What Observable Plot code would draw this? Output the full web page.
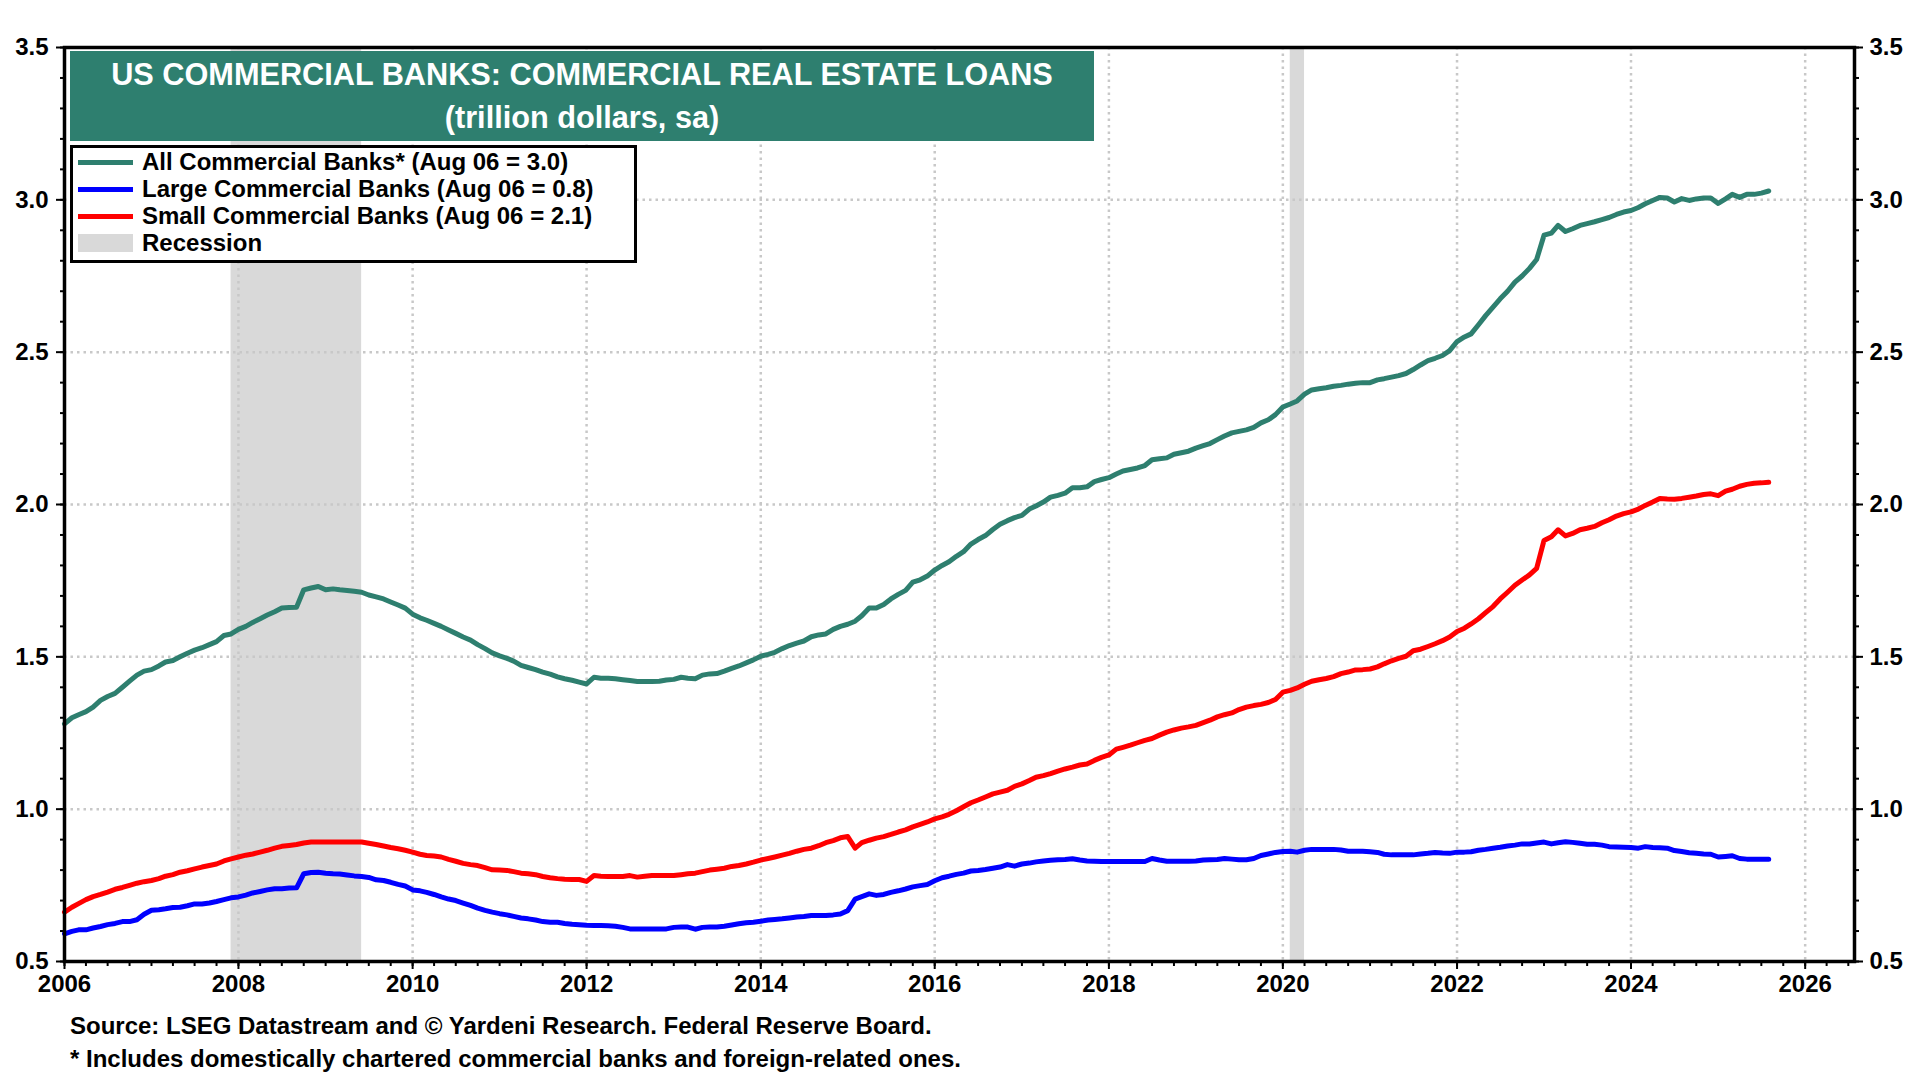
<!DOCTYPE html>
<html><head><meta charset="utf-8">
<script src="https://cdn.jsdelivr.net/npm/d3@7"></script>
<script src="https://cdn.jsdelivr.net/npm/@observablehq/plot@0.6"></script>
<style>
body{margin:0;background:#fff;}
#wrap{position:relative;width:1920px;height:1080px;font-family:Arial,"Liberation Sans",sans-serif;font-weight:bold;color:#000;overflow:hidden;}
#chart{position:absolute;left:0;top:0;}
#titlebox{position:absolute;left:70px;top:51px;width:1024px;height:90px;background:#2e7f6f;color:#fff;}
.tline{position:absolute;left:0;width:100%;text-align:center;font-size:30.7px;line-height:36px;}
#legend{position:absolute;left:70px;top:145px;width:567px;height:118px;border:3px solid #000;box-sizing:border-box;background:#fff;}
.lrow{position:absolute;left:142px;font-size:24px;line-height:26px;white-space:nowrap;}
.sw{position:absolute;left:78px;width:55px;}
.src{position:absolute;left:70px;font-size:24px;line-height:28px;white-space:nowrap;}
</style></head>
<body>
<div id="wrap">
  <div id="chart"></div>
  <div id="titlebox">
    <div class="tline" style="top:6px">US COMMERCIAL BANKS: COMMERCIAL REAL ESTATE LOANS</div>
    <div class="tline" style="top:49px">(trillion dollars, sa)</div>
  </div>
  <div id="legend"></div>
  <div class="src" style="top:1012px">Source: LSEG Datastream and © Yardeni Research. Federal Reserve Board.</div>
  <div class="src" style="top:1045px">* Includes domestically chartered commercial banks and foreign-related ones.</div>
</div>
<script>
// Monthly values, Jan 2006 .. Aug 2025 (trillion dollars)
const startYear = 2006;
const allBanks = [
1.28,1.30,1.31,1.32,1.335,1.357,1.37,1.38,1.40,1.42,1.44,1.453,
1.458,1.47,1.483,1.488,1.50,1.512,1.522,1.53,1.54,1.55,1.57,1.575,
1.59,1.60,1.613,1.625,1.637,1.648,1.66,1.662,1.663,1.72,1.726,1.731,
1.72,1.723,1.72,1.718,1.715,1.712,1.703,1.697,1.69,1.68,1.67,1.66,
1.64,1.628,1.62,1.61,1.60,1.588,1.577,1.565,1.555,1.54,1.527,1.513,
1.503,1.495,1.486,1.472,1.465,1.458,1.45,1.443,1.434,1.428,1.423,1.417,
1.411,1.433,1.43,1.43,1.428,1.425,1.422,1.419,1.419,1.419,1.42,1.424,
1.426,1.433,1.43,1.428,1.44,1.444,1.445,1.453,1.462,1.47,1.48,1.49,
1.502,1.508,1.515,1.527,1.537,1.545,1.552,1.566,1.572,1.575,1.59,1.60,
1.607,1.617,1.635,1.66,1.66,1.672,1.69,1.705,1.718,1.745,1.753,1.765,
1.785,1.80,1.812,1.83,1.845,1.87,1.885,1.898,1.918,1.935,1.947,1.957,
1.964,1.985,1.995,2.008,2.024,2.03,2.037,2.055,2.055,2.058,2.075,2.082,
2.088,2.10,2.11,2.115,2.12,2.128,2.147,2.15,2.153,2.165,2.17,2.175,
2.185,2.193,2.20,2.213,2.225,2.235,2.24,2.245,2.253,2.268,2.278,2.295,
2.32,2.33,2.34,2.362,2.376,2.38,2.383,2.388,2.391,2.395,2.398,2.40,
2.40,2.409,2.413,2.418,2.423,2.43,2.443,2.458,2.472,2.48,2.489,2.505,
2.535,2.55,2.56,2.59,2.62,2.648,2.675,2.70,2.73,2.75,2.775,2.804,
2.884,2.891,2.916,2.896,2.905,2.916,2.922,2.928,2.935,2.942,2.952,2.96,
2.965,2.975,2.987,2.998,3.008,3.006,2.993,3.004,2.998,3.003,3.006,3.006,
2.988,3.003,3.018,3.008,3.018,3.018,3.022,3.029
];
const largeBanks = [
0.591,0.599,0.604,0.604,0.61,0.615,0.621,0.625,0.631,0.631,0.637,0.655,
0.668,0.67,0.673,0.677,0.678,0.683,0.689,0.689,0.692,0.697,0.703,0.709,
0.712,0.718,0.725,0.73,0.735,0.739,0.739,0.741,0.742,0.788,0.792,0.793,
0.79,0.788,0.787,0.784,0.781,0.779,0.776,0.768,0.766,0.76,0.753,0.748,
0.735,0.732,0.727,0.72,0.712,0.705,0.70,0.692,0.684,0.675,0.668,0.662,
0.657,0.653,0.648,0.643,0.64,0.636,0.631,0.629,0.629,0.625,0.622,0.621,
0.619,0.618,0.618,0.617,0.616,0.612,0.607,0.607,0.607,0.607,0.607,0.607,
0.612,0.613,0.613,0.606,0.612,0.613,0.613,0.616,0.62,0.624,0.627,0.629,
0.632,0.636,0.638,0.64,0.643,0.646,0.648,0.651,0.651,0.651,0.653,0.656,
0.667,0.705,0.713,0.722,0.717,0.72,0.727,0.732,0.738,0.745,0.749,0.753,
0.765,0.775,0.78,0.786,0.79,0.797,0.799,0.802,0.806,0.81,0.818,0.813,
0.82,0.823,0.827,0.83,0.832,0.834,0.835,0.837,0.833,0.83,0.829,0.828,
0.828,0.828,0.828,0.828,0.828,0.828,0.838,0.833,0.829,0.829,0.829,0.829,
0.83,0.833,0.834,0.835,0.838,0.836,0.834,0.834,0.838,0.848,0.853,0.858,
0.861,0.862,0.859,0.865,0.868,0.868,0.868,0.868,0.866,0.862,0.862,0.862,
0.86,0.858,0.852,0.85,0.85,0.85,0.85,0.853,0.855,0.858,0.856,0.855,
0.859,0.859,0.86,0.865,0.868,0.872,0.875,0.879,0.882,0.886,0.886,0.889,
0.892,0.886,0.89,0.893,0.891,0.888,0.885,0.885,0.882,0.877,0.876,0.875,
0.874,0.872,0.877,0.874,0.873,0.872,0.864,0.861,0.857,0.855,0.853,0.852,
0.843,0.845,0.847,0.838,0.836,0.836,0.836,0.836
];
const smallBanks = [
0.662,0.678,0.69,0.703,0.713,0.72,0.728,0.737,0.743,0.75,0.757,0.762,
0.766,0.772,0.78,0.785,0.793,0.798,0.804,0.81,0.815,0.82,0.83,0.837,
0.843,0.849,0.853,0.859,0.865,0.872,0.878,0.881,0.884,0.889,0.892,0.892,
0.892,0.892,0.892,0.892,0.892,0.892,0.888,0.884,0.879,0.874,0.87,0.865,
0.859,0.852,0.848,0.846,0.843,0.835,0.829,0.822,0.818,0.815,0.808,0.801,
0.80,0.799,0.795,0.79,0.788,0.785,0.779,0.775,0.772,0.77,0.769,0.769,
0.763,0.782,0.78,0.779,0.779,0.779,0.782,0.777,0.78,0.782,0.782,0.782,
0.782,0.785,0.788,0.79,0.795,0.80,0.803,0.806,0.812,0.815,0.82,0.826,
0.833,0.838,0.843,0.849,0.855,0.862,0.868,0.872,0.88,0.89,0.897,0.906,
0.91,0.872,0.89,0.898,0.905,0.91,0.917,0.925,0.932,0.942,0.95,0.958,
0.968,0.975,0.983,0.995,1.008,1.021,1.03,1.04,1.05,1.056,1.062,1.075,
1.083,1.094,1.105,1.11,1.117,1.125,1.132,1.138,1.145,1.148,1.16,1.17,
1.178,1.197,1.203,1.21,1.218,1.226,1.232,1.243,1.253,1.26,1.266,1.27,
1.275,1.284,1.292,1.303,1.31,1.316,1.327,1.335,1.34,1.344,1.35,1.36,
1.384,1.39,1.398,1.41,1.42,1.425,1.429,1.435,1.445,1.45,1.457,1.458,
1.46,1.467,1.477,1.487,1.495,1.502,1.52,1.525,1.534,1.543,1.553,1.565,
1.583,1.594,1.608,1.625,1.645,1.665,1.69,1.712,1.735,1.752,1.769,1.79,
1.882,1.894,1.917,1.897,1.905,1.917,1.922,1.928,1.94,1.95,1.962,1.97,
1.976,1.985,1.997,2.008,2.02,2.018,2.017,2.02,2.024,2.028,2.033,2.035,
2.029,2.044,2.05,2.06,2.066,2.07,2.071,2.073
];
const seriesNames = ["All Commercial Banks* (Aug 06 = 3.0)", "Large Commercial Banks (Aug 06 = 0.8)", "Small Commercial Banks (Aug 06 = 2.1)", "Recession"];
const seriesColors = ["#2e7f6f", "#0000ff", "#ff0000", "#d9d9d9"];
const recessionStarts = ["2007-12-01", "2020-02-01"];
const recessionEnds = ["2009-06-01", "2020-04-01"];
const xTickYears = [2006, 2008, 2010, 2012, 2014, 2016, 2018, 2020, 2022, 2024, 2026];
const yTickValues = [0.5, 1.0, 1.5, 2.0, 2.5, 3.0, 3.5];
const xDomainEnd = "2026-07-27";

const dateOf = i => new Date(Date.UTC(startYear, i, 1));
const toRows = arr => arr.map((v, i) => ({date: dateOf(i), value: v}));
const recessions = recessionStarts.map((s, i) => ({start: new Date(s), end: new Date(recessionEnds[i])}));
const xMajor = xTickYears.map(y => new Date(Date.UTC(y, 0, 1)));
const x0 = new Date(Date.UTC(startYear, 0, 1));
const x1 = new Date(xDomainEnd);
const xMinor = d3.utcMonth.every(3).range(x0, x1);
const yMinor = d3.range(5, 36).map(k => k / 10);
const yGrid = yTickValues.slice(1, -1);

const grid = {stroke: "#c8c8c8", strokeOpacity: 1, strokeWidth: 2.5, strokeDasharray: "2.5,4"};
const fmt = d3.format(".1f");

const chart = Plot.plot({
  width: 1920, height: 1000,
  marginLeft: 64, marginRight: 66, marginTop: 47, marginBottom: 39,
  x: {type: "utc", domain: [x0, x1], label: null},
  y: {domain: [0.5, 3.5], label: null},
  style: {fontFamily: "Arial, 'Liberation Sans', sans-serif", fontSize: "24px", fontWeight: "bold", color: "#000", background: "#fff", overflow: "visible"},
  marks: [
    Plot.rect(recessions, {x1: "start", x2: "end", fill: seriesColors[3]}),
    Plot.gridX(xMajor, grid),
    Plot.gridY(yGrid, grid),
    Plot.lineY(toRows(largeBanks), {x: "date", y: "value", stroke: seriesColors[1], strokeWidth: 5}),
    Plot.lineY(toRows(smallBanks), {x: "date", y: "value", stroke: seriesColors[2], strokeWidth: 5}),
    Plot.lineY(toRows(allBanks), {x: "date", y: "value", stroke: seriesColors[0], strokeWidth: 5}),
    Plot.axisY(yMinor, {anchor: "left", label: null, tickSize: 4, strokeWidth: 2, tickFormat: () => ""}),
    Plot.axisY(yMinor, {anchor: "right", label: null, tickSize: 4, strokeWidth: 2, tickFormat: () => ""}),
    Plot.axisY(yTickValues, {anchor: "left", label: null, tickSize: 8, tickPadding: 8, strokeWidth: 2, tickFormat: fmt, fontSize: 24}),
    Plot.axisY(yTickValues, {anchor: "right", label: null, tickSize: 8, tickPadding: 7, strokeWidth: 2, tickFormat: fmt, fontSize: 24}),
    Plot.axisX(xMinor, {anchor: "bottom", label: null, tickSize: 5, strokeWidth: 2, tickFormat: () => ""}),
    Plot.axisX(xMajor, {anchor: "bottom", label: null, tickSize: 8, tickPadding: 5, strokeWidth: 2, tickFormat: d => String(d.getUTCFullYear()), fontSize: 24}),
    Plot.frame({stroke: "#000", strokeWidth: 3.5})
  ]
});
document.getElementById("chart").appendChild(chart);

// legend
const wrap = document.getElementById("wrap");
seriesNames.forEach((name, i) => {
  const cy = 162 + 27 * i;
  const sw = document.createElement("div");
  sw.className = "sw";
  const h = i === 3 ? 18 : 5;
  sw.style.top = (cy - h / 2) + "px";
  sw.style.height = h + "px";
  sw.style.background = seriesColors[i];
  wrap.appendChild(sw);
  const t = document.createElement("div");
  t.className = "lrow";
  t.style.top = (cy - 13) + "px";
  t.textContent = name;
  wrap.appendChild(t);
});
</script>
</body></html>
